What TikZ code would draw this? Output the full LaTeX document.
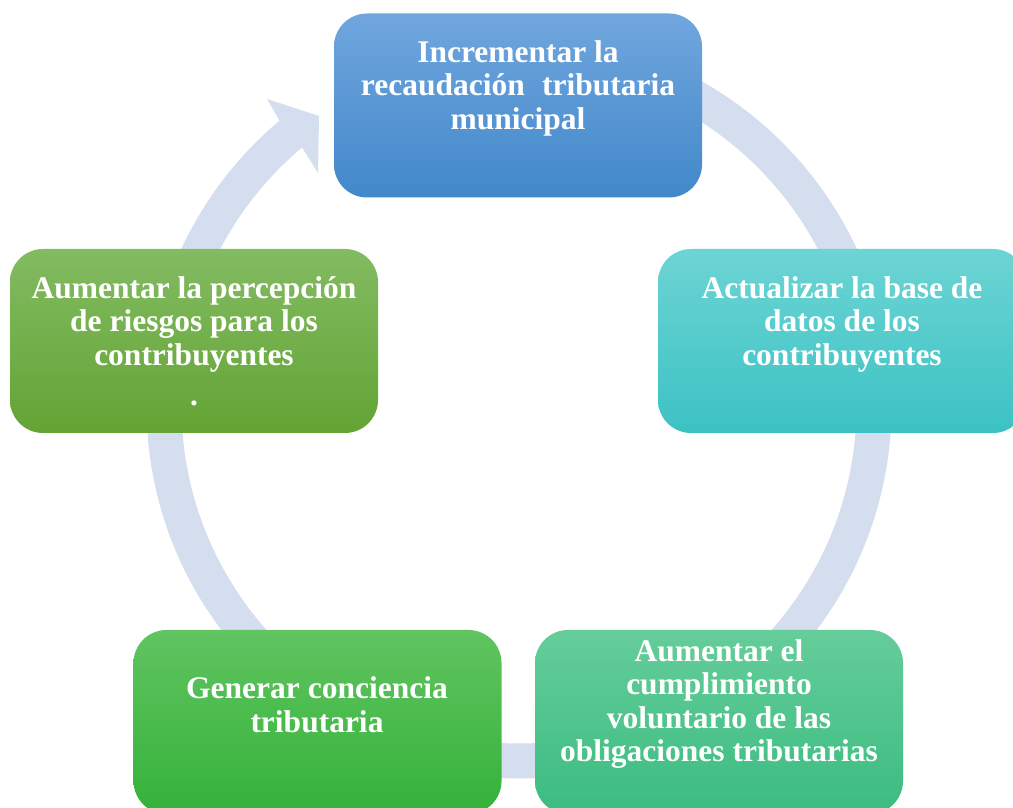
\documentclass[tikz,border=0pt]{standalone}
\usepackage{fontspec}
\setmainfont{Liberation Serif}
\usetikzlibrary{calc}
\definecolor{ringc}{RGB}{212,222,239}
\definecolor{blueT}{RGB}{112,166,222}
\definecolor{blueB}{RGB}{66,136,202}
\definecolor{tealT}{RGB}{109,212,212}
\definecolor{tealB}{RGB}{60,194,196}
\definecolor{lgT}{RGB}{131,187,98}
\definecolor{lgB}{RGB}{99,164,52}
\definecolor{bgT}{RGB}{96,196,96}
\definecolor{bgB}{RGB}{52,178,58}
\definecolor{bmT}{RGB}{101,205,154}
\definecolor{bmB}{RGB}{59,188,128}
\begin{document}
\begin{tikzpicture}[x=1pt,y=1pt,
  cbox/.style={rounded corners=33pt, inner sep=0pt, minimum width=368pt, minimum height=184pt},
  ctext/.style={text=white, font=\fontsize{31.5}{33.5}\selectfont\bfseries, align=center, inner sep=0pt},
  ringline/.style={draw=ringc, line width=35pt}]
\useasboundingbox (0,0) rectangle (1013,808);
\coordinate (c) at (519,402);
% ring with arrow
\draw[ringline] ($(c)+(90:355)$) arc[start angle=90, end angle=-230, radius=355];
\coordinate (ao) at ($(c)+(130:372.5)$);
\coordinate (ai) at ($(c)+(130:337.5)$);
\coordinate (b1) at (267,709);
\coordinate (tip) at (319,692);
\coordinate (b2) at (318,635);
\fill[ringc] (ao) -- (b1) -- (tip) -- (b2) -- (ai) -- cycle;
% boxes
\node[cbox, top color=blueT, bottom color=blueB] (top) at (518,702.5) {};
\node[cbox, top color=tealT, bottom color=tealB] (right) at (842,467) {};
\node[cbox, top color=lgT, bottom color=lgB] (left) at (194,467) {};
\node[cbox, top color=bgT, bottom color=bgB] (bl) at (317.5,86) {};
\node[cbox, top color=bmT, bottom color=bmB] (br) at (719,86) {};
% texts
\node[ctext] (topt) at (518,720) {Incrementar la\\recaudación\hspace{0.3em} tributaria\\municipal};
\node[ctext] (rightt) at (842,484) {Actualizar la base de\\datos de los\\contribuyentes};
\node[ctext] (leftt) at (194,484) {Aumentar la percepción\\de riesgos para los\\contribuyentes};
\node[ctext] (leftdot) at (194,405) {.};
\node[ctext] (blt) at (317,103) {Generar conciencia\\tributaria};
\node[ctext] (brt) at (719,104) {Aumentar el\\cumplimiento\\voluntario de las\\obligaciones tributarias};
\end{tikzpicture}
\end{document}
